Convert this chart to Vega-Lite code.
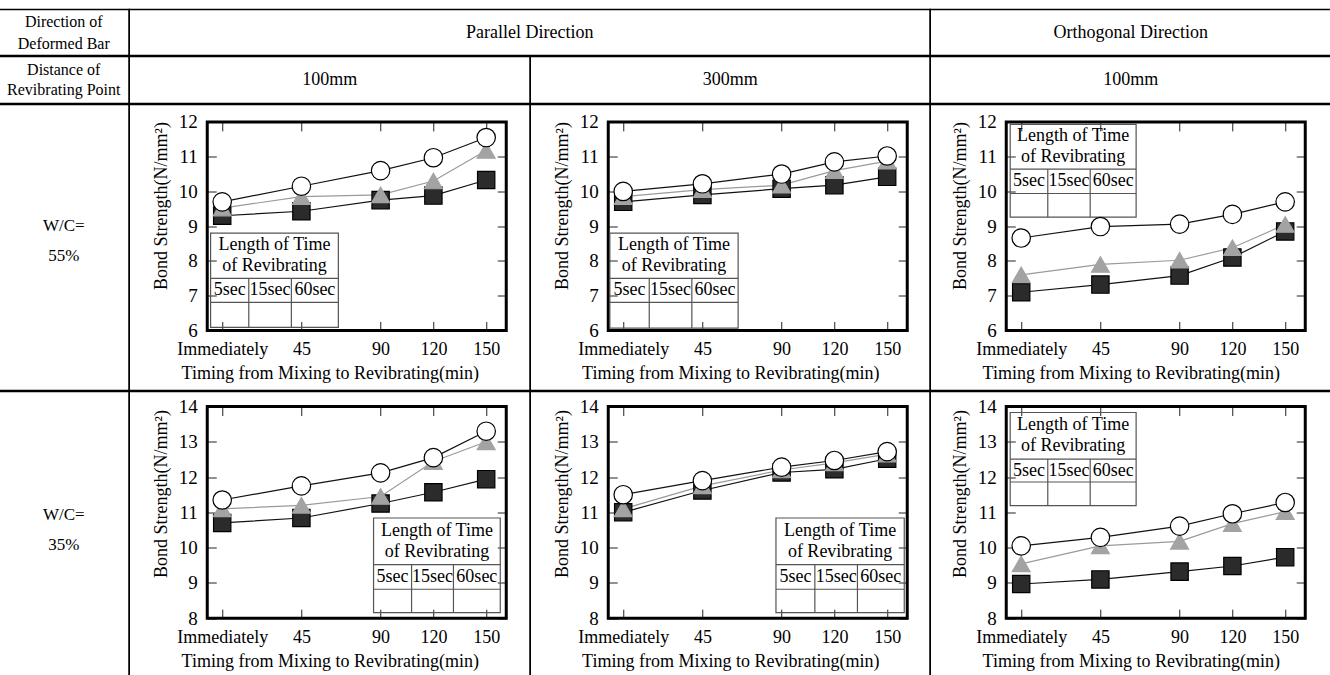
{
"$schema": "https://vega.github.io/schema/vega-lite/v6.json",
"padding": {"left": -2.75, "top": 8.5, "right": 0, "bottom": 0},
"background": "white",
"spacing": -1.5,
"config": {
  "font": "Liberation Serif",
  "view": {"stroke": null},
  "text": {"font": "Liberation Serif", "color": "#000"},
  "axis": {"labelFont": "Liberation Serif", "labelFontSize": 19, "labelColor": "#000", "titleFont": "Liberation Serif", "titleFontSize": 18, "titleFontWeight": "normal", "titleColor": "#000", "domain": false, "grid": false, "tickColor": "#222", "tickWidth": 1, "tickSize": -9, "labelFlush": false, "labelOverlap": false},
  "axisX": {"labelFontSize": 18}
},
"datasets": {
  "bond": [
    {"panel":"p1","s":"5sec","t":0,"v":9.30},{"panel":"p1","s":"5sec","t":45,"v":9.43},{"panel":"p1","s":"5sec","t":90,"v":9.75},{"panel":"p1","s":"5sec","t":120,"v":9.88},{"panel":"p1","s":"5sec","t":150,"v":10.33},
    {"panel":"p1","s":"15sec","t":0,"v":9.52},{"panel":"p1","s":"15sec","t":45,"v":9.85},{"panel":"p1","s":"15sec","t":90,"v":9.90},{"panel":"p1","s":"15sec","t":120,"v":10.30},{"panel":"p1","s":"15sec","t":150,"v":11.18},
    {"panel":"p1","s":"60sec","t":0,"v":9.70},{"panel":"p1","s":"60sec","t":45,"v":10.15},{"panel":"p1","s":"60sec","t":90,"v":10.60},{"panel":"p1","s":"60sec","t":120,"v":10.97},{"panel":"p1","s":"60sec","t":150,"v":11.55},
    {"panel":"p2","s":"5sec","t":0,"v":9.70},{"panel":"p2","s":"5sec","t":45,"v":9.90},{"panel":"p2","s":"5sec","t":90,"v":10.08},{"panel":"p2","s":"5sec","t":120,"v":10.18},{"panel":"p2","s":"5sec","t":150,"v":10.42},
    {"panel":"p2","s":"15sec","t":0,"v":9.85},{"panel":"p2","s":"15sec","t":45,"v":10.05},{"panel":"p2","s":"15sec","t":90,"v":10.18},{"panel":"p2","s":"15sec","t":120,"v":10.60},{"panel":"p2","s":"15sec","t":150,"v":10.87},
    {"panel":"p2","s":"60sec","t":0,"v":10.00},{"panel":"p2","s":"60sec","t":45,"v":10.22},{"panel":"p2","s":"60sec","t":90,"v":10.50},{"panel":"p2","s":"60sec","t":120,"v":10.85},{"panel":"p2","s":"60sec","t":150,"v":11.02},
    {"panel":"p3","s":"5sec","t":0,"v":7.10},{"panel":"p3","s":"5sec","t":45,"v":7.32},{"panel":"p3","s":"5sec","t":90,"v":7.58},{"panel":"p3","s":"5sec","t":120,"v":8.10},{"panel":"p3","s":"5sec","t":150,"v":8.85},
    {"panel":"p3","s":"15sec","t":0,"v":7.60},{"panel":"p3","s":"15sec","t":45,"v":7.90},{"panel":"p3","s":"15sec","t":90,"v":8.02},{"panel":"p3","s":"15sec","t":120,"v":8.38},{"panel":"p3","s":"15sec","t":150,"v":9.05},
    {"panel":"p3","s":"60sec","t":0,"v":8.66},{"panel":"p3","s":"60sec","t":45,"v":8.99},{"panel":"p3","s":"60sec","t":90,"v":9.06},{"panel":"p3","s":"60sec","t":120,"v":9.34},{"panel":"p3","s":"60sec","t":150,"v":9.70},
    {"panel":"p4","s":"5sec","t":0,"v":10.70},{"panel":"p4","s":"5sec","t":45,"v":10.84},{"panel":"p4","s":"5sec","t":90,"v":11.25},{"panel":"p4","s":"5sec","t":120,"v":11.57},{"panel":"p4","s":"5sec","t":150,"v":11.94},
    {"panel":"p4","s":"15sec","t":0,"v":11.10},{"panel":"p4","s":"15sec","t":45,"v":11.20},{"panel":"p4","s":"15sec","t":90,"v":11.45},{"panel":"p4","s":"15sec","t":120,"v":12.44},{"panel":"p4","s":"15sec","t":150,"v":13.00},
    {"panel":"p4","s":"60sec","t":0,"v":11.35},{"panel":"p4","s":"60sec","t":45,"v":11.75},{"panel":"p4","s":"60sec","t":90,"v":12.12},{"panel":"p4","s":"60sec","t":120,"v":12.55},{"panel":"p4","s":"60sec","t":150,"v":13.30},
    {"panel":"p5","s":"5sec","t":0,"v":11.00},{"panel":"p5","s":"5sec","t":45,"v":11.62},{"panel":"p5","s":"5sec","t":90,"v":12.13},{"panel":"p5","s":"5sec","t":120,"v":12.22},{"panel":"p5","s":"5sec","t":150,"v":12.52},
    {"panel":"p5","s":"15sec","t":0,"v":11.10},{"panel":"p5","s":"15sec","t":45,"v":11.75},{"panel":"p5","s":"15sec","t":90,"v":12.20},{"panel":"p5","s":"15sec","t":120,"v":12.40},{"panel":"p5","s":"15sec","t":150,"v":12.65},
    {"panel":"p5","s":"60sec","t":0,"v":11.50},{"panel":"p5","s":"60sec","t":45,"v":11.90},{"panel":"p5","s":"60sec","t":90,"v":12.28},{"panel":"p5","s":"60sec","t":120,"v":12.47},{"panel":"p5","s":"60sec","t":150,"v":12.72},
    {"panel":"p6","s":"5sec","t":0,"v":8.97},{"panel":"p6","s":"5sec","t":45,"v":9.10},{"panel":"p6","s":"5sec","t":90,"v":9.32},{"panel":"p6","s":"5sec","t":120,"v":9.48},{"panel":"p6","s":"5sec","t":150,"v":9.73},
    {"panel":"p6","s":"15sec","t":0,"v":9.54},{"panel":"p6","s":"15sec","t":45,"v":10.05},{"panel":"p6","s":"15sec","t":90,"v":10.18},{"panel":"p6","s":"15sec","t":120,"v":10.68},{"panel":"p6","s":"15sec","t":150,"v":11.02},
    {"panel":"p6","s":"60sec","t":0,"v":10.05},{"panel":"p6","s":"60sec","t":45,"v":10.29},{"panel":"p6","s":"60sec","t":90,"v":10.61},{"panel":"p6","s":"60sec","t":120,"v":10.96},{"panel":"p6","s":"60sec","t":150,"v":11.28}
  ]
},
"vconcat": [
 {"hconcat": [
   {"width": 131, "height": 46, "view": {"stroke": "#000", "strokeWidth": 1.5}, "data": {"values": [{"t": "Direction of\nDeformed Bar"}]}, "mark": {"type": "text", "lineBreak": "\n", "fontSize": 16, "lineHeight": 22, "dy": -11}, "encoding": {"text": {"field": "t"}}},
   {"width": 801, "height": 46, "view": {"stroke": "#000", "strokeWidth": 1.5}, "data": {"values": [{"t": "Parallel Direction"}]}, "mark": {"type": "text", "fontSize": 18}, "encoding": {"text": {"field": "t"}}},
   {"width": 401, "height": 46, "view": {"stroke": "#000", "strokeWidth": 1.5}, "data": {"values": [{"t": "Orthogonal Direction"}]}, "mark": {"type": "text", "fontSize": 18}, "encoding": {"text": {"field": "t"}}}
 ], "spacing": 0, "bounds": "flush"},
 {"hconcat": [
   {"width": 131, "height": 47, "view": {"stroke": "#000", "strokeWidth": 1.5}, "data": {"values": [{"t": "Distance of\nRevibrating Point"}]}, "mark": {"type": "text", "lineBreak": "\n", "fontSize": 16, "lineHeight": 20, "dy": -10}, "encoding": {"text": {"field": "t"}}},
   {"width": 401, "height": 47, "view": {"stroke": "#000", "strokeWidth": 1.5}, "data": {"values": [{"t": "100mm"}]}, "mark": {"type": "text", "fontSize": 18}, "encoding": {"text": {"field": "t"}}},
   {"width": 400, "height": 47, "view": {"stroke": "#000", "strokeWidth": 1.5}, "data": {"values": [{"t": "300mm"}]}, "mark": {"type": "text", "fontSize": 18}, "encoding": {"text": {"field": "t"}}},
   {"width": 401, "height": 47, "view": {"stroke": "#000", "strokeWidth": 1.5}, "data": {"values": [{"t": "100mm"}]}, "mark": {"type": "text", "fontSize": 18}, "encoding": {"text": {"field": "t"}}}
 ], "spacing": 0, "bounds": "flush"},
 {"hconcat": [
   {"width": 131, "height": 286, "view": {"stroke": "#000", "strokeWidth": 1.5}, "data": {"values": [{"t": "W/C=\n55%"}]}, "mark": {"type": "text", "lineBreak": "\n", "fontSize": 17, "lineHeight": 30, "dy": -21.5}, "encoding": {"text": {"field": "t"}}},
   {"width": 401, "height": 286, "view": {"stroke": "#000", "strokeWidth": 1.5},
    "resolve": {"axis": {"x": "independent", "y": "independent"}},
    "layer": [
     {"data": {"values": [{}]}, "mark": {"type": "rect", "filled": false, "stroke": "#000", "strokeWidth": 3},
      "encoding": {
       "x": {"datum": -8.5, "type": "quantitative", "scale": {"domain": [-52.82, 175.04], "nice": false, "zero": false}, "axis": {"orient": "bottom", "offset": -60, "values": [0,45,90,120,150], "labelExpr": "datum.value == 0 ? 'Immediately' : datum.label", "format": "d", "labelPadding": 19, "title": "Timing from Mixing to Revibrating(min)", "titlePadding": 6}},
       "x2": {"datum": 161.4},
       "y": {"datum": 6, "type": "quantitative", "scale": {"domain": [4.2742, 12.5005], "nice": false, "zero": false}, "axis": {"orient": "left", "offset": -78, "values": [6,7,8,9,10,11,12], "format": "d", "labelPadding": 19, "title": "Bond Strength(N/mm²)", "titlePadding": 8, "titleY": 101}},
       "y2": {"datum": 12}}},
     {"data": {"values": [{}]}, "mark": {"type": "rect", "opacity": 0},
      "encoding": {
       "x": {"datum": -8.5, "type": "quantitative", "axis": {"orient": "top", "offset": -17.4, "values": [0,45,90,120,150], "labels": false, "title": null}},
       "x2": {"datum": 161.4},
       "y": {"datum": 6, "type": "quantitative", "axis": {"orient": "right", "offset": -24, "values": [6,7,8,9,10,11,12], "labels": false, "title": null}},
       "y2": {"datum": 12}}},
     {"data": {"values": [{}]}, "mark": {"type": "rect", "filled": false, "stroke": "#555", "strokeWidth": 1.2}, "encoding": {"x": {"datum": -6.6, "axis": null}, "x2": {"datum": 66.0}, "y": {"datum": 8.80, "axis": null}, "y2": {"datum": 6.09}}},
     {"data": {"values": [{}]}, "mark": {"type": "rule", "color": "#555", "strokeWidth": 1.2}, "encoding": {"x": {"datum": -6.6, "axis": null}, "x2": {"datum": 66.0}, "y": {"datum": 7.50, "axis": null}}},
     {"data": {"values": [{}]}, "mark": {"type": "rule", "color": "#555", "strokeWidth": 1.2}, "encoding": {"x": {"datum": -6.6, "axis": null}, "x2": {"datum": 66.0}, "y": {"datum": 6.81, "axis": null}}},
     {"data": {"values": [{}]}, "mark": {"type": "rule", "color": "#555", "strokeWidth": 1.2}, "encoding": {"x": {"datum": 15.1, "axis": null}, "y": {"datum": 7.50, "axis": null}, "y2": {"datum": 6.09}}},
     {"data": {"values": [{}]}, "mark": {"type": "rule", "color": "#555", "strokeWidth": 1.2}, "encoding": {"x": {"datum": 39.3, "axis": null}, "y": {"datum": 7.50, "axis": null}, "y2": {"datum": 6.09}}},
     {"data": {"values": [{}]}, "mark": {"type": "text", "fontSize": 18, "lineBreak": "\n", "lineHeight": 21, "dy": -10.5}, "encoding": {"x": {"datum": 29.7, "axis": null}, "y": {"datum": 8.15, "axis": null}, "text": {"value": "Length of Time\nof Revibrating"}}},
     {"data": {"values": [{}]}, "mark": {"type": "text", "fontSize": 18}, "encoding": {"x": {"datum": 4.25, "axis": null}, "y": {"datum": 7.155, "axis": null}, "text": {"value": "5sec"}}},
     {"data": {"values": [{}]}, "mark": {"type": "text", "fontSize": 18}, "encoding": {"x": {"datum": 27.2, "axis": null}, "y": {"datum": 7.155, "axis": null}, "text": {"value": "15sec"}}},
     {"data": {"values": [{}]}, "mark": {"type": "text", "fontSize": 18}, "encoding": {"x": {"datum": 52.65, "axis": null}, "y": {"datum": 7.155, "axis": null}, "text": {"value": "60sec"}}},
     {"data": {"name": "bond"}, "transform": [{"filter": "datum.panel == 'p1'"}], "mark": {"type": "line", "strokeWidth": 1.2},
      "encoding": {"x": {"field": "t", "type": "quantitative", "axis": null}, "y": {"field": "v", "type": "quantitative", "axis": null},
       "color": {"field": "s", "type": "nominal", "scale": {"domain": ["5sec","15sec","60sec"], "range": ["#111111","#9a9a9a","#111111"]}, "legend": null}}},
     {"data": {"name": "bond"}, "transform": [{"filter": "datum.panel == 'p1'"}], "mark": {"type": "point", "filled": true, "opacity": 1, "strokeWidth": 1.2},
      "encoding": {"x": {"field": "t", "type": "quantitative", "axis": null}, "y": {"field": "v", "type": "quantitative", "axis": null},
       "shape": {"field": "s", "type": "nominal", "scale": {"domain": ["5sec","15sec","60sec"], "range": ["square","triangle-up","circle"]}, "legend": null},
       "fill": {"field": "s", "type": "nominal", "scale": {"domain": ["5sec","15sec","60sec"], "range": ["#2b2b2b","#a3a3a3","#ffffff"]}, "legend": null},
       "stroke": {"field": "s", "type": "nominal", "scale": {"domain": ["5sec","15sec","60sec"], "range": ["#000000","#a3a3a3","#000000"]}, "legend": null},
       "size": {"field": "s", "type": "ordinal", "scale": {"domain": ["5sec","15sec","60sec"], "range": [300, 340, 290]}, "legend": null}}}
    ]},
   {"width": 400, "height": 286, "view": {"stroke": "#000", "strokeWidth": 1.5},
    "resolve": {"axis": {"x": "independent", "y": "independent"}},
    "layer": [
     {"data": {"values": [{}]}, "mark": {"type": "rect", "filled": false, "stroke": "#000", "strokeWidth": 3},
      "encoding": {
       "x": {"datum": -8.5, "type": "quantitative", "scale": {"domain": [-52.82, 174.47], "nice": false, "zero": false}, "axis": {"orient": "bottom", "offset": -60, "values": [0,45,90,120,150], "labelExpr": "datum.value == 0 ? 'Immediately' : datum.label", "format": "d", "labelPadding": 19, "title": "Timing from Mixing to Revibrating(min)", "titlePadding": 6}},
       "x2": {"datum": 161.4},
       "y": {"datum": 6, "type": "quantitative", "scale": {"domain": [4.2742, 12.5005], "nice": false, "zero": false}, "axis": {"orient": "left", "offset": -78, "values": [6,7,8,9,10,11,12], "format": "d", "labelPadding": 19, "title": "Bond Strength(N/mm²)", "titlePadding": 8, "titleY": 101}},
       "y2": {"datum": 12}}},
     {"data": {"values": [{}]}, "mark": {"type": "rect", "opacity": 0},
      "encoding": {
       "x": {"datum": -8.5, "type": "quantitative", "axis": {"orient": "top", "offset": -17.4, "values": [0,45,90,120,150], "labels": false, "title": null}},
       "x2": {"datum": 161.4},
       "y": {"datum": 6, "type": "quantitative", "axis": {"orient": "right", "offset": -23, "values": [6,7,8,9,10,11,12], "labels": false, "title": null}},
       "y2": {"datum": 12}}},
     {"data": {"values": [{}]}, "mark": {"type": "rect", "filled": false, "stroke": "#555", "strokeWidth": 1.2}, "encoding": {"x": {"datum": -7.6, "axis": null}, "x2": {"datum": 65.3}, "y": {"datum": 8.80, "axis": null}, "y2": {"datum": 6.07}}},
     {"data": {"values": [{}]}, "mark": {"type": "rule", "color": "#555", "strokeWidth": 1.2}, "encoding": {"x": {"datum": -7.6, "axis": null}, "x2": {"datum": 65.3}, "y": {"datum": 7.50, "axis": null}}},
     {"data": {"values": [{}]}, "mark": {"type": "rule", "color": "#555", "strokeWidth": 1.2}, "encoding": {"x": {"datum": -7.6, "axis": null}, "x2": {"datum": 65.3}, "y": {"datum": 6.81, "axis": null}}},
     {"data": {"values": [{}]}, "mark": {"type": "rule", "color": "#555", "strokeWidth": 1.2}, "encoding": {"x": {"datum": 14.8, "axis": null}, "y": {"datum": 7.50, "axis": null}, "y2": {"datum": 6.07}}},
     {"data": {"values": [{}]}, "mark": {"type": "rule", "color": "#555", "strokeWidth": 1.2}, "encoding": {"x": {"datum": 39.0, "axis": null}, "y": {"datum": 7.50, "axis": null}, "y2": {"datum": 6.07}}},
     {"data": {"values": [{}]}, "mark": {"type": "text", "fontSize": 18, "lineBreak": "\n", "lineHeight": 21, "dy": -10.5}, "encoding": {"x": {"datum": 28.85, "axis": null}, "y": {"datum": 8.15, "axis": null}, "text": {"value": "Length of Time\nof Revibrating"}}},
     {"data": {"values": [{}]}, "mark": {"type": "text", "fontSize": 18}, "encoding": {"x": {"datum": 3.6, "axis": null}, "y": {"datum": 7.155, "axis": null}, "text": {"value": "5sec"}}},
     {"data": {"values": [{}]}, "mark": {"type": "text", "fontSize": 18}, "encoding": {"x": {"datum": 26.9, "axis": null}, "y": {"datum": 7.155, "axis": null}, "text": {"value": "15sec"}}},
     {"data": {"values": [{}]}, "mark": {"type": "text", "fontSize": 18}, "encoding": {"x": {"datum": 52.15, "axis": null}, "y": {"datum": 7.155, "axis": null}, "text": {"value": "60sec"}}},
     {"data": {"name": "bond"}, "transform": [{"filter": "datum.panel == 'p2'"}], "mark": {"type": "line", "strokeWidth": 1.2},
      "encoding": {"x": {"field": "t", "type": "quantitative", "axis": null}, "y": {"field": "v", "type": "quantitative", "axis": null},
       "color": {"field": "s", "type": "nominal", "scale": {"domain": ["5sec","15sec","60sec"], "range": ["#111111","#9a9a9a","#111111"]}, "legend": null}}},
     {"data": {"name": "bond"}, "transform": [{"filter": "datum.panel == 'p2'"}], "mark": {"type": "point", "filled": true, "opacity": 1, "strokeWidth": 1.2},
      "encoding": {"x": {"field": "t", "type": "quantitative", "axis": null}, "y": {"field": "v", "type": "quantitative", "axis": null},
       "shape": {"field": "s", "type": "nominal", "scale": {"domain": ["5sec","15sec","60sec"], "range": ["square","triangle-up","circle"]}, "legend": null},
       "fill": {"field": "s", "type": "nominal", "scale": {"domain": ["5sec","15sec","60sec"], "range": ["#2b2b2b","#a3a3a3","#ffffff"]}, "legend": null},
       "stroke": {"field": "s", "type": "nominal", "scale": {"domain": ["5sec","15sec","60sec"], "range": ["#000000","#a3a3a3","#000000"]}, "legend": null},
       "size": {"field": "s", "type": "ordinal", "scale": {"domain": ["5sec","15sec","60sec"], "range": [300, 340, 290]}, "legend": null}}}
    ]},
   {"width": 401, "height": 286, "view": {"stroke": "#000", "strokeWidth": 1.5},
    "resolve": {"axis": {"x": "independent", "y": "independent"}},
    "layer": [
     {"data": {"values": [{}]}, "mark": {"type": "rect", "filled": false, "stroke": "#000", "strokeWidth": 3},
      "encoding": {
       "x": {"datum": -8.5, "type": "quantitative", "scale": {"domain": [-51.68, 176.17], "nice": false, "zero": false}, "axis": {"orient": "bottom", "offset": -60, "values": [0,45,90,120,150], "labelExpr": "datum.value == 0 ? 'Immediately' : datum.label", "format": "d", "labelPadding": 19, "title": "Timing from Mixing to Revibrating(min)", "titlePadding": 6}},
       "x2": {"datum": 161.4},
       "y": {"datum": 6, "type": "quantitative", "scale": {"domain": [4.2742, 12.5005], "nice": false, "zero": false}, "axis": {"orient": "left", "offset": -76, "values": [6,7,8,9,10,11,12], "format": "d", "labelPadding": 19, "title": "Bond Strength(N/mm²)", "titlePadding": 8, "titleY": 101}},
       "y2": {"datum": 12}}},
     {"data": {"values": [{}]}, "mark": {"type": "rect", "opacity": 0},
      "encoding": {
       "x": {"datum": -8.5, "type": "quantitative", "axis": {"orient": "top", "offset": -17.4, "values": [0,45,90,120,150], "labels": false, "title": null}},
       "x2": {"datum": 161.4},
       "y": {"datum": 6, "type": "quantitative", "axis": {"orient": "right", "offset": -26, "values": [6,7,8,9,10,11,12], "labels": false, "title": null}},
       "y2": {"datum": 12}}},
     {"data": {"values": [{}]}, "mark": {"type": "rect", "filled": false, "stroke": "#555", "strokeWidth": 1.2}, "encoding": {"x": {"datum": -6.25, "axis": null}, "x2": {"datum": 65.3}, "y": {"datum": 11.93, "axis": null}, "y2": {"datum": 9.26}}},
     {"data": {"values": [{}]}, "mark": {"type": "rule", "color": "#555", "strokeWidth": 1.2}, "encoding": {"x": {"datum": -6.25, "axis": null}, "x2": {"datum": 65.3}, "y": {"datum": 10.64, "axis": null}}},
     {"data": {"values": [{}]}, "mark": {"type": "rule", "color": "#555", "strokeWidth": 1.2}, "encoding": {"x": {"datum": -6.25, "axis": null}, "x2": {"datum": 65.3}, "y": {"datum": 9.94, "axis": null}}},
     {"data": {"values": [{}]}, "mark": {"type": "rule", "color": "#555", "strokeWidth": 1.2}, "encoding": {"x": {"datum": 15.1, "axis": null}, "y": {"datum": 10.64, "axis": null}, "y2": {"datum": 9.26}}},
     {"data": {"values": [{}]}, "mark": {"type": "rule", "color": "#555", "strokeWidth": 1.2}, "encoding": {"x": {"datum": 39.2, "axis": null}, "y": {"datum": 10.64, "axis": null}, "y2": {"datum": 9.26}}},
     {"data": {"values": [{}]}, "mark": {"type": "text", "fontSize": 18, "lineBreak": "\n", "lineHeight": 21, "dy": -10.5}, "encoding": {"x": {"datum": 29.5, "axis": null}, "y": {"datum": 11.285, "axis": null}, "text": {"value": "Length of Time\nof Revibrating"}}},
     {"data": {"values": [{}]}, "mark": {"type": "text", "fontSize": 18}, "encoding": {"x": {"datum": 4.4, "axis": null}, "y": {"datum": 10.29, "axis": null}, "text": {"value": "5sec"}}},
     {"data": {"values": [{}]}, "mark": {"type": "text", "fontSize": 18}, "encoding": {"x": {"datum": 27.15, "axis": null}, "y": {"datum": 10.29, "axis": null}, "text": {"value": "15sec"}}},
     {"data": {"values": [{}]}, "mark": {"type": "text", "fontSize": 18}, "encoding": {"x": {"datum": 52.25, "axis": null}, "y": {"datum": 10.29, "axis": null}, "text": {"value": "60sec"}}},
     {"data": {"name": "bond"}, "transform": [{"filter": "datum.panel == 'p3'"}], "mark": {"type": "line", "strokeWidth": 1.2},
      "encoding": {"x": {"field": "t", "type": "quantitative", "axis": null}, "y": {"field": "v", "type": "quantitative", "axis": null},
       "color": {"field": "s", "type": "nominal", "scale": {"domain": ["5sec","15sec","60sec"], "range": ["#111111","#9a9a9a","#111111"]}, "legend": null}}},
     {"data": {"name": "bond"}, "transform": [{"filter": "datum.panel == 'p3'"}], "mark": {"type": "point", "filled": true, "opacity": 1, "strokeWidth": 1.2},
      "encoding": {"x": {"field": "t", "type": "quantitative", "axis": null}, "y": {"field": "v", "type": "quantitative", "axis": null},
       "shape": {"field": "s", "type": "nominal", "scale": {"domain": ["5sec","15sec","60sec"], "range": ["square","triangle-up","circle"]}, "legend": null},
       "fill": {"field": "s", "type": "nominal", "scale": {"domain": ["5sec","15sec","60sec"], "range": ["#2b2b2b","#a3a3a3","#ffffff"]}, "legend": null},
       "stroke": {"field": "s", "type": "nominal", "scale": {"domain": ["5sec","15sec","60sec"], "range": ["#000000","#a3a3a3","#000000"]}, "legend": null},
       "size": {"field": "s", "type": "ordinal", "scale": {"domain": ["5sec","15sec","60sec"], "range": [300, 340, 290]}, "legend": null}}}
    ]}
 ], "spacing": 0, "bounds": "flush"},
 {"hconcat": [
   {"width": 131, "height": 290, "view": {"stroke": "#000", "strokeWidth": 1.5}, "data": {"values": [{"t": "W/C=\n35%"}]}, "mark": {"type": "text", "lineBreak": "\n", "fontSize": 17, "lineHeight": 30, "dy": -22}, "encoding": {"text": {"field": "t"}}},
   {"width": 401, "height": 290, "view": {"stroke": "#000", "strokeWidth": 1.5},
    "resolve": {"axis": {"x": "independent", "y": "independent"}},
    "layer": [
     {"data": {"values": [{}]}, "mark": {"type": "rect", "filled": false, "stroke": "#000", "strokeWidth": 3},
      "encoding": {
       "x": {"datum": -8.5, "type": "quantitative", "scale": {"domain": [-52.82, 175.04], "nice": false, "zero": false}, "axis": {"orient": "bottom", "offset": -63.3, "values": [0,45,90,120,150], "labelExpr": "datum.value == 0 ? 'Immediately' : datum.label", "format": "d", "labelPadding": 19, "title": "Timing from Mixing to Revibrating(min)", "titlePadding": 6}},
       "x2": {"datum": 161.4},
       "y": {"datum": 8, "type": "quantitative", "scale": {"domain": [6.206, 14.4251], "nice": false, "zero": false}, "axis": {"orient": "left", "offset": -78, "values": [8,9,10,11,12,13,14], "format": "d", "labelPadding": 19, "title": "Bond Strength(N/mm²)", "titlePadding": 8, "titleY": 102}},
       "y2": {"datum": 14}}},
     {"data": {"values": [{}]}, "mark": {"type": "rect", "opacity": 0},
      "encoding": {
       "x": {"datum": -8.5, "type": "quantitative", "axis": {"orient": "top", "offset": -15, "values": [0,45,90,120,150], "labels": false, "title": null}},
       "x2": {"datum": 161.4},
       "y": {"datum": 8, "type": "quantitative", "axis": {"orient": "right", "offset": -24, "values": [8,9,10,11,12,13,14], "labels": false, "title": null}},
       "y2": {"datum": 14}}},
     {"data": {"values": [{}]}, "mark": {"type": "rect", "filled": false, "stroke": "#555", "strokeWidth": 1.2}, "encoding": {"x": {"datum": 86, "axis": null}, "x2": {"datum": 158}, "y": {"datum": 10.84, "axis": null}, "y2": {"datum": 8.16}}},
     {"data": {"values": [{}]}, "mark": {"type": "rule", "color": "#555", "strokeWidth": 1.2}, "encoding": {"x": {"datum": 86, "axis": null}, "x2": {"datum": 158}, "y": {"datum": 9.52, "axis": null}}},
     {"data": {"values": [{}]}, "mark": {"type": "rule", "color": "#555", "strokeWidth": 1.2}, "encoding": {"x": {"datum": 86, "axis": null}, "x2": {"datum": 158}, "y": {"datum": 8.82, "axis": null}}},
     {"data": {"values": [{}]}, "mark": {"type": "rule", "color": "#555", "strokeWidth": 1.2}, "encoding": {"x": {"datum": 107.6, "axis": null}, "y": {"datum": 9.52, "axis": null}, "y2": {"datum": 8.16}}},
     {"data": {"values": [{}]}, "mark": {"type": "rule", "color": "#555", "strokeWidth": 1.2}, "encoding": {"x": {"datum": 131.4, "axis": null}, "y": {"datum": 9.52, "axis": null}, "y2": {"datum": 8.16}}},
     {"data": {"values": [{}]}, "mark": {"type": "text", "fontSize": 18, "lineBreak": "\n", "lineHeight": 21, "dy": -10.5}, "encoding": {"x": {"datum": 122, "axis": null}, "y": {"datum": 10.18, "axis": null}, "text": {"value": "Length of Time\nof Revibrating"}}},
     {"data": {"values": [{}]}, "mark": {"type": "text", "fontSize": 18}, "encoding": {"x": {"datum": 96.8, "axis": null}, "y": {"datum": 9.17, "axis": null}, "text": {"value": "5sec"}}},
     {"data": {"values": [{}]}, "mark": {"type": "text", "fontSize": 18}, "encoding": {"x": {"datum": 119.5, "axis": null}, "y": {"datum": 9.17, "axis": null}, "text": {"value": "15sec"}}},
     {"data": {"values": [{}]}, "mark": {"type": "text", "fontSize": 18}, "encoding": {"x": {"datum": 144.7, "axis": null}, "y": {"datum": 9.17, "axis": null}, "text": {"value": "60sec"}}},
     {"data": {"name": "bond"}, "transform": [{"filter": "datum.panel == 'p4'"}], "mark": {"type": "line", "strokeWidth": 1.2},
      "encoding": {"x": {"field": "t", "type": "quantitative", "axis": null}, "y": {"field": "v", "type": "quantitative", "axis": null},
       "color": {"field": "s", "type": "nominal", "scale": {"domain": ["5sec","15sec","60sec"], "range": ["#111111","#9a9a9a","#111111"]}, "legend": null}}},
     {"data": {"name": "bond"}, "transform": [{"filter": "datum.panel == 'p4'"}], "mark": {"type": "point", "filled": true, "opacity": 1, "strokeWidth": 1.2},
      "encoding": {"x": {"field": "t", "type": "quantitative", "axis": null}, "y": {"field": "v", "type": "quantitative", "axis": null},
       "shape": {"field": "s", "type": "nominal", "scale": {"domain": ["5sec","15sec","60sec"], "range": ["square","triangle-up","circle"]}, "legend": null},
       "fill": {"field": "s", "type": "nominal", "scale": {"domain": ["5sec","15sec","60sec"], "range": ["#2b2b2b","#a3a3a3","#ffffff"]}, "legend": null},
       "stroke": {"field": "s", "type": "nominal", "scale": {"domain": ["5sec","15sec","60sec"], "range": ["#000000","#a3a3a3","#000000"]}, "legend": null},
       "size": {"field": "s", "type": "ordinal", "scale": {"domain": ["5sec","15sec","60sec"], "range": [300, 340, 290]}, "legend": null}}}
    ]},
   {"width": 400, "height": 290, "view": {"stroke": "#000", "strokeWidth": 1.5},
    "resolve": {"axis": {"x": "independent", "y": "independent"}},
    "layer": [
     {"data": {"values": [{}]}, "mark": {"type": "rect", "filled": false, "stroke": "#000", "strokeWidth": 3},
      "encoding": {
       "x": {"datum": -8.5, "type": "quantitative", "scale": {"domain": [-52.82, 174.47], "nice": false, "zero": false}, "axis": {"orient": "bottom", "offset": -63.3, "values": [0,45,90,120,150], "labelExpr": "datum.value == 0 ? 'Immediately' : datum.label", "format": "d", "labelPadding": 19, "title": "Timing from Mixing to Revibrating(min)", "titlePadding": 6}},
       "x2": {"datum": 161.4},
       "y": {"datum": 8, "type": "quantitative", "scale": {"domain": [6.206, 14.4251], "nice": false, "zero": false}, "axis": {"orient": "left", "offset": -78, "values": [8,9,10,11,12,13,14], "format": "d", "labelPadding": 19, "title": "Bond Strength(N/mm²)", "titlePadding": 8, "titleY": 102}},
       "y2": {"datum": 14}}},
     {"data": {"values": [{}]}, "mark": {"type": "rect", "opacity": 0},
      "encoding": {
       "x": {"datum": -8.5, "type": "quantitative", "axis": {"orient": "top", "offset": -15, "values": [0,45,90,120,150], "labels": false, "title": null}},
       "x2": {"datum": 161.4},
       "y": {"datum": 8, "type": "quantitative", "axis": {"orient": "right", "offset": -23, "values": [8,9,10,11,12,13,14], "labels": false, "title": null}},
       "y2": {"datum": 14}}},
     {"data": {"values": [{}]}, "mark": {"type": "rect", "filled": false, "stroke": "#555", "strokeWidth": 1.2}, "encoding": {"x": {"datum": 86.8, "axis": null}, "x2": {"datum": 159.7}, "y": {"datum": 10.84, "axis": null}, "y2": {"datum": 8.16}}},
     {"data": {"values": [{}]}, "mark": {"type": "rule", "color": "#555", "strokeWidth": 1.2}, "encoding": {"x": {"datum": 86.8, "axis": null}, "x2": {"datum": 159.7}, "y": {"datum": 9.52, "axis": null}}},
     {"data": {"values": [{}]}, "mark": {"type": "rule", "color": "#555", "strokeWidth": 1.2}, "encoding": {"x": {"datum": 86.8, "axis": null}, "x2": {"datum": 159.7}, "y": {"datum": 8.82, "axis": null}}},
     {"data": {"values": [{}]}, "mark": {"type": "rule", "color": "#555", "strokeWidth": 1.2}, "encoding": {"x": {"datum": 108.9, "axis": null}, "y": {"datum": 9.52, "axis": null}, "y2": {"datum": 8.16}}},
     {"data": {"values": [{}]}, "mark": {"type": "rule", "color": "#555", "strokeWidth": 1.2}, "encoding": {"x": {"datum": 133.1, "axis": null}, "y": {"datum": 9.52, "axis": null}, "y2": {"datum": 8.16}}},
     {"data": {"values": [{}]}, "mark": {"type": "text", "fontSize": 18, "lineBreak": "\n", "lineHeight": 21, "dy": -10.5}, "encoding": {"x": {"datum": 123.25, "axis": null}, "y": {"datum": 10.18, "axis": null}, "text": {"value": "Length of Time\nof Revibrating"}}},
     {"data": {"values": [{}]}, "mark": {"type": "text", "fontSize": 18}, "encoding": {"x": {"datum": 97.85, "axis": null}, "y": {"datum": 9.17, "axis": null}, "text": {"value": "5sec"}}},
     {"data": {"values": [{}]}, "mark": {"type": "text", "fontSize": 18}, "encoding": {"x": {"datum": 121, "axis": null}, "y": {"datum": 9.17, "axis": null}, "text": {"value": "15sec"}}},
     {"data": {"values": [{}]}, "mark": {"type": "text", "fontSize": 18}, "encoding": {"x": {"datum": 146.4, "axis": null}, "y": {"datum": 9.17, "axis": null}, "text": {"value": "60sec"}}},
     {"data": {"name": "bond"}, "transform": [{"filter": "datum.panel == 'p5'"}], "mark": {"type": "line", "strokeWidth": 1.2},
      "encoding": {"x": {"field": "t", "type": "quantitative", "axis": null}, "y": {"field": "v", "type": "quantitative", "axis": null},
       "color": {"field": "s", "type": "nominal", "scale": {"domain": ["5sec","15sec","60sec"], "range": ["#111111","#9a9a9a","#111111"]}, "legend": null}}},
     {"data": {"name": "bond"}, "transform": [{"filter": "datum.panel == 'p5'"}], "mark": {"type": "point", "filled": true, "opacity": 1, "strokeWidth": 1.2},
      "encoding": {"x": {"field": "t", "type": "quantitative", "axis": null}, "y": {"field": "v", "type": "quantitative", "axis": null},
       "shape": {"field": "s", "type": "nominal", "scale": {"domain": ["5sec","15sec","60sec"], "range": ["square","triangle-up","circle"]}, "legend": null},
       "fill": {"field": "s", "type": "nominal", "scale": {"domain": ["5sec","15sec","60sec"], "range": ["#2b2b2b","#a3a3a3","#ffffff"]}, "legend": null},
       "stroke": {"field": "s", "type": "nominal", "scale": {"domain": ["5sec","15sec","60sec"], "range": ["#000000","#a3a3a3","#000000"]}, "legend": null},
       "size": {"field": "s", "type": "ordinal", "scale": {"domain": ["5sec","15sec","60sec"], "range": [300, 340, 290]}, "legend": null}}}
    ]},
   {"width": 401, "height": 290, "view": {"stroke": "#000", "strokeWidth": 1.5},
    "resolve": {"axis": {"x": "independent", "y": "independent"}},
    "layer": [
     {"data": {"values": [{}]}, "mark": {"type": "rect", "filled": false, "stroke": "#000", "strokeWidth": 3},
      "encoding": {
       "x": {"datum": -8.5, "type": "quantitative", "scale": {"domain": [-51.68, 176.17], "nice": false, "zero": false}, "axis": {"orient": "bottom", "offset": -63.3, "values": [0,45,90,120,150], "labelExpr": "datum.value == 0 ? 'Immediately' : datum.label", "format": "d", "labelPadding": 19, "title": "Timing from Mixing to Revibrating(min)", "titlePadding": 6}},
       "x2": {"datum": 161.4},
       "y": {"datum": 8, "type": "quantitative", "scale": {"domain": [6.206, 14.4251], "nice": false, "zero": false}, "axis": {"orient": "left", "offset": -76, "values": [8,9,10,11,12,13,14], "format": "d", "labelPadding": 19, "title": "Bond Strength(N/mm²)", "titlePadding": 8, "titleY": 102}},
       "y2": {"datum": 14}}},
     {"data": {"values": [{}]}, "mark": {"type": "rect", "opacity": 0},
      "encoding": {
       "x": {"datum": -8.5, "type": "quantitative", "axis": {"orient": "top", "offset": -15, "values": [0,45,90,120,150], "labels": false, "title": null}},
       "x2": {"datum": 161.4},
       "y": {"datum": 8, "type": "quantitative", "axis": {"orient": "right", "offset": -26, "values": [8,9,10,11,12,13,14], "labels": false, "title": null}},
       "y2": {"datum": 14}}},
     {"data": {"values": [{}]}, "mark": {"type": "rect", "filled": false, "stroke": "#555", "strokeWidth": 1.2}, "encoding": {"x": {"datum": -6.25, "axis": null}, "x2": {"datum": 65.3}, "y": {"datum": 13.83, "axis": null}, "y2": {"datum": 11.19}}},
     {"data": {"values": [{}]}, "mark": {"type": "rule", "color": "#555", "strokeWidth": 1.2}, "encoding": {"x": {"datum": -6.25, "axis": null}, "x2": {"datum": 65.3}, "y": {"datum": 12.51, "axis": null}}},
     {"data": {"values": [{}]}, "mark": {"type": "rule", "color": "#555", "strokeWidth": 1.2}, "encoding": {"x": {"datum": -6.25, "axis": null}, "x2": {"datum": 65.3}, "y": {"datum": 11.86, "axis": null}}},
     {"data": {"values": [{}]}, "mark": {"type": "rule", "color": "#555", "strokeWidth": 1.2}, "encoding": {"x": {"datum": 15.1, "axis": null}, "y": {"datum": 12.51, "axis": null}, "y2": {"datum": 11.19}}},
     {"data": {"values": [{}]}, "mark": {"type": "rule", "color": "#555", "strokeWidth": 1.2}, "encoding": {"x": {"datum": 39.2, "axis": null}, "y": {"datum": 12.51, "axis": null}, "y2": {"datum": 11.19}}},
     {"data": {"values": [{}]}, "mark": {"type": "text", "fontSize": 18, "lineBreak": "\n", "lineHeight": 21, "dy": -10.5}, "encoding": {"x": {"datum": 29.5, "axis": null}, "y": {"datum": 13.17, "axis": null}, "text": {"value": "Length of Time\nof Revibrating"}}},
     {"data": {"values": [{}]}, "mark": {"type": "text", "fontSize": 18}, "encoding": {"x": {"datum": 4.4, "axis": null}, "y": {"datum": 12.185, "axis": null}, "text": {"value": "5sec"}}},
     {"data": {"values": [{}]}, "mark": {"type": "text", "fontSize": 18}, "encoding": {"x": {"datum": 27.15, "axis": null}, "y": {"datum": 12.185, "axis": null}, "text": {"value": "15sec"}}},
     {"data": {"values": [{}]}, "mark": {"type": "text", "fontSize": 18}, "encoding": {"x": {"datum": 52.25, "axis": null}, "y": {"datum": 12.185, "axis": null}, "text": {"value": "60sec"}}},
     {"data": {"name": "bond"}, "transform": [{"filter": "datum.panel == 'p6'"}], "mark": {"type": "line", "strokeWidth": 1.2},
      "encoding": {"x": {"field": "t", "type": "quantitative", "axis": null}, "y": {"field": "v", "type": "quantitative", "axis": null},
       "color": {"field": "s", "type": "nominal", "scale": {"domain": ["5sec","15sec","60sec"], "range": ["#111111","#9a9a9a","#111111"]}, "legend": null}}},
     {"data": {"name": "bond"}, "transform": [{"filter": "datum.panel == 'p6'"}], "mark": {"type": "point", "filled": true, "opacity": 1, "strokeWidth": 1.2},
      "encoding": {"x": {"field": "t", "type": "quantitative", "axis": null}, "y": {"field": "v", "type": "quantitative", "axis": null},
       "shape": {"field": "s", "type": "nominal", "scale": {"domain": ["5sec","15sec","60sec"], "range": ["square","triangle-up","circle"]}, "legend": null},
       "fill": {"field": "s", "type": "nominal", "scale": {"domain": ["5sec","15sec","60sec"], "range": ["#2b2b2b","#a3a3a3","#ffffff"]}, "legend": null},
       "stroke": {"field": "s", "type": "nominal", "scale": {"domain": ["5sec","15sec","60sec"], "range": ["#000000","#a3a3a3","#000000"]}, "legend": null},
       "size": {"field": "s", "type": "ordinal", "scale": {"domain": ["5sec","15sec","60sec"], "range": [300, 340, 290]}, "legend": null}}}
    ]}
 ], "spacing": 0, "bounds": "flush"}
]
}
